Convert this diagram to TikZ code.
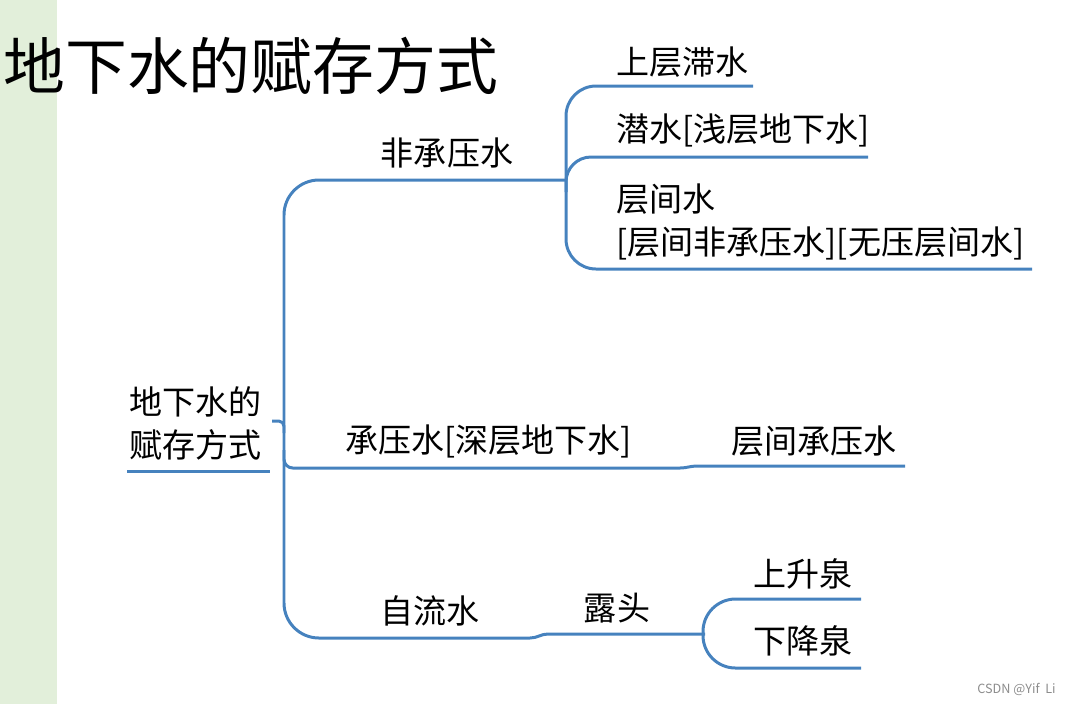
\documentclass[tikz,border=0pt]{standalone}
\usepackage{fontspec}
\setmainfont{Noto Sans CJK SC}
\usepackage{xcolor}
\definecolor{mapBlue}{HTML}{4682BE}
\definecolor{barGreen}{HTML}{E2EFDA}
\tikzset{
  branch/.style={mapBlue, line width=1.7pt},
  topic/.style={inner sep=0pt, align=left, font=\fontsize{18.8}{24.5}\selectfont},
}

\begin{document}
\begin{tikzpicture}[x=0.02cm, y=-0.02cm]
  \useasboundingbox (0,0) rectangle (1070,704);
  % side bar
  \fill[barGreen] (0,0) rectangle (57,704);
  % title
  \node[anchor=west, inner sep=0pt, font=\fontsize{35.2}{40}\selectfont] (title) at (3,66) {地下水的赋存方式};
  % topics
  \node[topic, anchor=west] (root) at (129,423) {地下水的\\赋存方式};
  \node[topic] (unconf) at (447,153) {非承压水};
  \node[topic, anchor=west] (perched) at (616,62) {上层滞水};
  \node[topic, anchor=west] (phreatic) at (616,130) {潜水[浅层地下水]};
  \node[topic, anchor=west] (inter) at (616,222) {层间水\\{}[层间非承压水][无压层间水]};
  \node[topic, anchor=west] (conf) at (345,441) {承压水[深层地下水]};
  \node[topic, anchor=west] (confinter) at (731,441) {层间承压水};
  \node[topic] (artes) at (430,611) {自流水};
  \node[topic] (outcrop) at (617,608) {露头};
  \node[topic, anchor=west] (ascend) at (753,574) {上升泉};
  \node[topic, anchor=west] (descend) at (753,641) {下降泉};
  % line ends
  \coordinate (rootL) at (127,471);
  \coordinate (rootR) at (270,471);
  \coordinate (hook) at (272,421);
  \coordinate (unconfEnd) at (566,180);
  \coordinate (confBend) at (680,468);
  \coordinate (confEnd) at (905,466);
  \coordinate (artesBend) at (530,638);
  \coordinate (artesEnd) at (705,634);
  \coordinate (perchedEnd) at (753,86);
  \coordinate (phreaticEnd) at (868,157);
  \coordinate (interEnd) at (1032,269);
  \coordinate (ascendEnd) at (861,599);
  \coordinate (descendEnd) at (861,668);
  % root and trunk
  \draw[branch] (rootL) -- (rootR);
  \draw[branch, rounded corners=3pt] (hook) -| (284,433);
  \draw[branch, rounded corners=0.7cm] (unconfEnd) -- (284,180) -- (284,638) -- (artesBend);
  \draw[branch] (artesBend) to[out=0, in=180] (548,634) -- (artesEnd);
  \draw[branch, rounded corners=5pt] (284,450) |- (confBend);
  \draw[branch] (confBend) to[out=0, in=180] (697,466) -- (confEnd);
  % unconfined water
  \draw[branch, rounded corners=0.6cm] (perchedEnd) -- (566,86) -- (566,269) -- (interEnd);
  \draw[branch, rounded corners=0.5cm] (566,192) |- (phreaticEnd);
  % springs
  \draw[branch, rounded corners=0.65cm] (ascendEnd) -- (703,599) -- (703,668) -- (descendEnd);
  % watermark
  \node[anchor=east, inner sep=0pt, text=black!45, font=\fontsize{7.2}{9}\selectfont] (mark) at (1056,689) {CSDN @Yif\ \ Li};
\end{tikzpicture}
\end{document}
